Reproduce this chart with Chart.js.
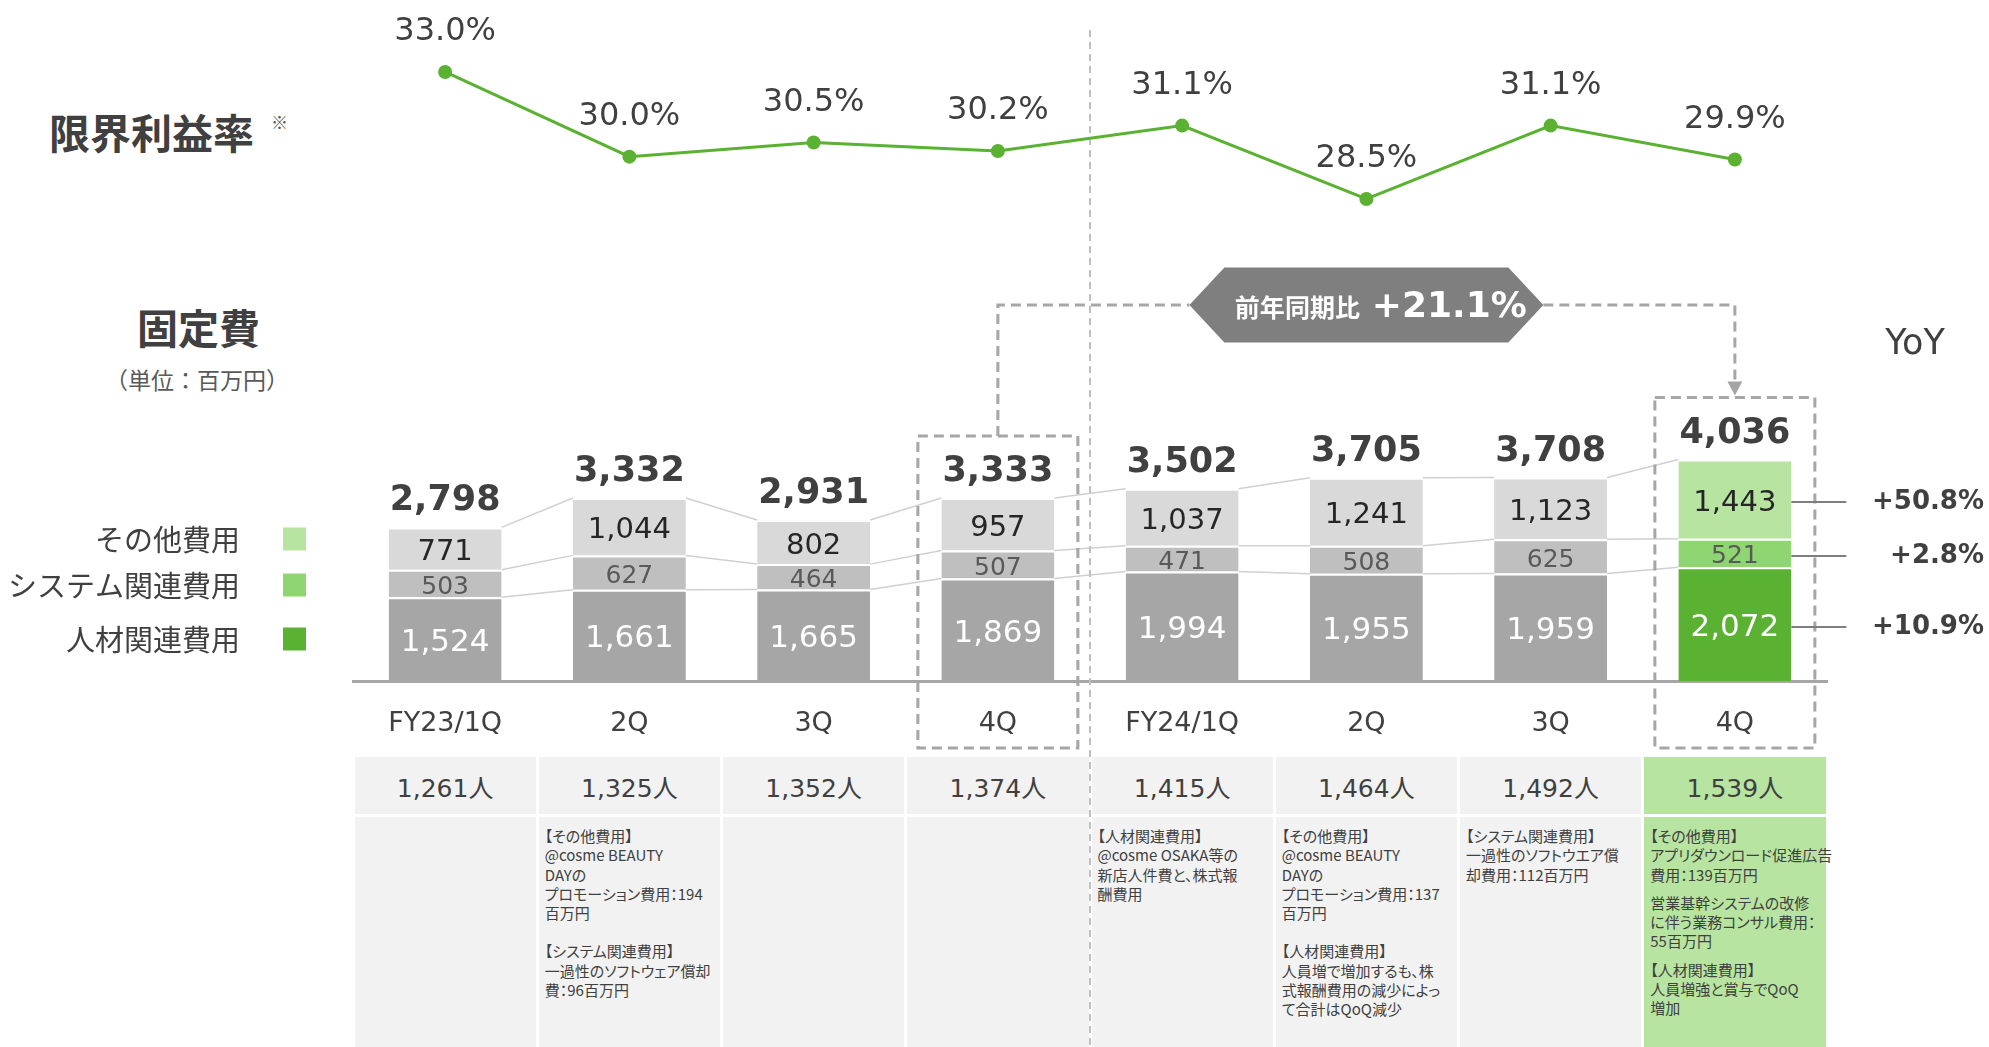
<!DOCTYPE html>
<html lang="ja">
<head>
<meta charset="utf-8">
<script src="https://cdn.jsdelivr.net/npm/chart.js@4.4.1/dist/chart.umd.min.js"></script>
<style>
  body { margin:0; width:1989px; height:1047px; background:#fff; position:relative; overflow:hidden;
         font-family:"Noto Sans CJK JP", sans-serif; color:#404040; }
  #chart { position:absolute; left:0; top:0; z-index:2; }
  .lbl { position:absolute; line-height:1; transform:translateY(-50%); white-space:nowrap; z-index:1; }
  .big { font-size:41px; font-weight:bold; color:#404040; }
  #table { position:absolute; left:353px; top:757px; width:1474px; height:290px; z-index:1; }
  .cell { position:absolute; background:#f2f2f2; box-sizing:border-box; }
  .cell.hl { background:#b7e4a1; }
  .head { font-family:"DejaVu Sans","Noto Sans CJK JP",sans-serif; font-size:25px; color:#404040;
          display:flex; align-items:center; justify-content:center; }
  .note { font-size:15px; line-height:19.3px; color:#404040; padding:9px 0 0 6px; white-space:pre;
          font-feature-settings:"palt"; }
</style>
</head>
<body>
<div class="lbl big" style="left:49px; top:131px;">限界利益率</div>
<div class="lbl" style="left:271px; top:121px; font-size:17px; color:#595959;">※</div>
<div class="lbl big" style="left:137px; top:326px;">固定費</div>
<div class="lbl" style="left:105px; top:379px; font-size:23px; color:#595959;">（単位：百万円）</div>
<div id="table"></div>
<canvas id="chart" width="1989" height="1047"></canvas>
<script>
const categories = ['FY23/1Q', '2Q', '3Q', '4Q', 'FY24/1Q', '2Q', '3Q', '4Q'];
const personnelCost = [1524, 1661, 1665, 1869, 1994, 1955, 1959, 2072];
const systemCost = [503, 627, 464, 507, 471, 508, 625, 521];
const otherCost = [771, 1044, 802, 957, 1037, 1241, 1123, 1443];
const totalLabels = ['2,798', '3,332', '2,931', '3,333', '3,502', '3,705', '3,708', '4,036'];
const marginRate = [33.0, 30.0, 30.5, 30.2, 31.1, 28.5, 31.1, 29.9];
const headcount = ['1,261人', '1,325人', '1,352人', '1,374人', '1,415人', '1,464人', '1,492人', '1,539人'];
const yoyLabels = ['+10.9%', '+2.8%', '+50.8%']; // 人材, システム, その他
const seriesNames = ['人材関連費用', 'システム関連費用', 'その他費用'];
const notes = [
  [],
  ['【その他費用】\n@cosme BEAUTY\nDAYの\nプロモーション費用：194\n百万円', '【システム関連費用】\n一過性のソフトウェア償却\n費：96百万円'],
  [],
  [],
  ['【人材関連費用】\n@cosme OSAKA等の\n新店人件費と、株式報\n酬費用'],
  ['【その他費用】\n@cosme BEAUTY\nDAYの\nプロモーション費用：137\n百万円', '【人材関連費用】\n人員増で増加するも、株\n式報酬費用の減少によっ\nて合計はQoQ減少'],
  ['【システム関連費用】\n一過性のソフトウエア償\n却費用：112百万円'],
  ['【その他費用】\nアプリダウンロード促進広告\n費用：139百万円', '営業基幹システムの改修\nに伴う業務コンサル費用：\n55百万円', '【人材関連費用】\n人員増強と賞与でQoQ\n増加']
];

const HL = 7; // highlighted quarter
const NUM = '"DejaVu Sans", "Noto Sans CJK JP", sans-serif';
const JP = '"Noto Sans CJK JP", sans-serif';
const grays = ['#a6a6a6', '#bfbfbf', '#d9d9d9'];
const greens = ['#5ab132', '#8fd672', '#b7e4a1'];

function colorsFor(k) {
  return categories.map((c, i) => i === HL ? greens[k] : grays[k]);
}

// table under the chart
const table = document.getElementById('table');
const colW = 1474 / categories.length;
categories.forEach((c, i) => {
  const h = document.createElement('div');
  h.className = 'cell head' + (i === HL ? ' hl' : '');
  h.style.cssText = `left:${i * colW + 1.5}px;top:0;width:${colW - 3}px;height:57px;`;
  h.textContent = headcount[i];
  table.appendChild(h);
  const n = document.createElement('div');
  n.className = 'cell note' + (i === HL ? ' hl' : '');
  n.style.cssText = `left:${i * colW + 1.5}px;top:60px;width:${colW - 3}px;height:230px;`;
  notes[i].forEach((p, j) => {
    const d = document.createElement('div');
    d.textContent = p;
    if (j > 0) d.style.marginTop = (i === HL ? 9 : 19) + 'px';
    n.appendChild(d);
  });
  table.appendChild(n);
});

function txt(ctx, s, x, y, font, color, align) {
  ctx.font = font;
  ctx.fillStyle = color;
  ctx.textAlign = align || 'center';
  ctx.textBaseline = 'middle';
  ctx.fillText(s, x, y);
}

const overlay = {
  id: 'overlay',
  beforeDatasetsDraw(chart) {
    const ctx = chart.ctx;
    const xs = chart.scales.x;
    ctx.save();
    // thin connectors between segment tops
    ctx.strokeStyle = '#d0d0d0';
    ctx.lineWidth = 1.5;
    [0, 1, 2].forEach(d => {
      const bars = chart.getDatasetMeta(d).data;
      for (let i = 0; i < bars.length - 1; i++) {
        const a = bars[i], b = bars[i + 1];
        ctx.beginPath();
        ctx.moveTo(a.x + a.width / 2, a.y);
        ctx.lineTo(b.x - b.width / 2, b.y);
        ctx.stroke();
      }
    });
    // FY23 / FY24 divider
    const divX = (xs.getPixelForValue(3) + xs.getPixelForValue(4)) / 2;
    ctx.setLineDash([7, 5]);
    ctx.strokeStyle = '#c0c0c0';
    ctx.lineWidth = 2;
    ctx.beginPath();
    ctx.moveTo(divX, 30);
    ctx.lineTo(divX, chart.height);
    ctx.stroke();
    ctx.restore();
  },
  afterDatasetsDraw(chart) {
    const ctx = chart.ctx;
    const xs = chart.scales.x;
    const area = chart.chartArea;
    ctx.save();

    // segment values
    const segFont = [`31px ${NUM}`, `25px ${NUM}`, `29px ${NUM}`];
    const segColor = ['#ffffff', '#595959', '#262626'];
    [0, 1, 2].forEach(d => {
      const ds = chart.data.datasets[d];
      chart.getDatasetMeta(d).data.forEach((bar, i) => {
        const v = ds.data[i].toLocaleString('en-US');
        txt(ctx, v, bar.x, (bar.y + bar.base) / 2 + 4, segFont[d], segColor[d]);
      });
    });
    // totals
    chart.getDatasetMeta(2).data.forEach((bar, i) => {
      txt(ctx, totalLabels[i], bar.x, bar.y - 26, `bold 35px ${NUM}`, '#404040');
    });
    // margin rate labels
    chart.getDatasetMeta(3).data.forEach((p, i) => {
      txt(ctx, marginRate[i].toFixed(1) + '%', p.x, p.y - 40, `32px ${NUM}`, '#404040');
    });

    // dashed boxes around the compared quarters
    const boxes = [3, HL].map(i => {
      const top = chart.getDatasetMeta(2).data[i];
      return { cx: top.x, l: top.x - 80, r: top.x + 80, t: top.y - 62, b: area.bottom + 67 };
    });
    ctx.strokeStyle = '#a6a6a6';
    ctx.lineWidth = 3;
    ctx.setLineDash([10, 6]);
    boxes.forEach(b => ctx.strokeRect(b.l, b.t, b.r - b.l, b.b - b.t));

    // connector + banner
    const bx = xs.getPixelForValue(5), by = 305;
    const bw = 177, bf = 142, bh = 37.5;
    const [b1, b2] = boxes;
    ctx.beginPath();
    ctx.moveTo(b1.cx, b1.t);
    ctx.lineTo(b1.cx, by);
    ctx.lineTo(bx - bw, by);
    ctx.stroke();
    ctx.beginPath();
    ctx.moveTo(bx + bw, by);
    ctx.lineTo(b2.cx, by);
    ctx.lineTo(b2.cx, b2.t - 15);
    ctx.stroke();
    ctx.setLineDash([]);
    ctx.fillStyle = '#a6a6a6';
    ctx.beginPath();
    ctx.moveTo(b2.cx - 7.5, b2.t - 16);
    ctx.lineTo(b2.cx + 7.5, b2.t - 16);
    ctx.lineTo(b2.cx, b2.t - 2);
    ctx.closePath();
    ctx.fill();

    ctx.fillStyle = '#7f7f7f';
    ctx.beginPath();
    ctx.moveTo(bx - bw, by);
    ctx.lineTo(bx - bf, by - bh);
    ctx.lineTo(bx + bf, by - bh);
    ctx.lineTo(bx + bw, by);
    ctx.lineTo(bx + bf, by + bh);
    ctx.lineTo(bx - bf, by + bh);
    ctx.closePath();
    ctx.fill();
    txt(ctx, '前年同期比', bx - 69, by + 2, `bold 25px ${JP}`, '#ffffff');
    txt(ctx, '+21.1%', bx + 83, by + 3, `bold 36px ${NUM}`, '#ffffff');

    // YoY column
    txt(ctx, 'YoY', 1915, 345, `35px ${NUM}`, '#404040');
    ctx.strokeStyle = '#7f7f7f';
    ctx.lineWidth = 2;
    [0, 1, 2].forEach(d => {
      const bar = chart.getDatasetMeta(d).data[HL];
      const y = (bar.y + bar.base) / 2 + 3;
      const x0 = bar.x + bar.width / 2;
      ctx.beginPath();
      ctx.moveTo(x0, y);
      ctx.lineTo(x0 + 55, y);
      ctx.stroke();
      txt(ctx, yoyLabels[d], chart.width - 5, y, `bold 26px ${NUM}`, '#404040', 'right');
    });

    // legend
    const legendY = [639, 585, 539];
    [0, 1, 2].forEach(d => {
      ctx.fillStyle = greens[d];
      ctx.fillRect(283, legendY[d] - 11.5, 23, 23);
      txt(ctx, seriesNames[d], 240, legendY[d] + 1, `29px ${JP}`, '#404040', 'right');
    });
    ctx.restore();
  }
};

new Chart(document.getElementById('chart'), {
  type: 'bar',
  data: {
    labels: categories,
    datasets: [
      { label: seriesNames[0], data: personnelCost, backgroundColor: colorsFor(0), stack: 's' },
      { label: seriesNames[1], data: systemCost, backgroundColor: colorsFor(1), stack: 's' },
      { label: seriesNames[2], data: otherCost, backgroundColor: colorsFor(2), stack: 's' },
      { type: 'line', label: '限界利益率', data: marginRate, yAxisID: 'y2',
        borderColor: '#5ab132', borderWidth: 3, pointRadius: 7, pointBorderWidth: 0,
        pointBackgroundColor: '#5ab132', tension: 0 }
    ].map(ds => ds.type ? ds : Object.assign(ds, {
      borderColor: '#ffffff', borderWidth: { top: 2, left: 0, right: 0, bottom: 0 },
      borderSkipped: 'start', barPercentage: 0.613, categoryPercentage: 1
    }))
  },
  options: {
    responsive: false,
    devicePixelRatio: 1,
    animation: false,
    layout: { autoPadding: false, padding: { left: 353, right: 162, top: 0, bottom: 286 } },
    plugins: { legend: { display: false }, tooltip: { enabled: false } },
    scales: {
      x: {
        stacked: true,
        grid: { display: false, drawTicks: false },
        border: { display: true, color: '#a6a6a6', width: 3 },
        ticks: { color: '#404040', font: { family: NUM, size: 27 }, padding: 27 },
        afterFit: s => { s.height = 80; }
      },
      y: { stacked: true, display: false, min: 0, max: 12404 },
      y2: { display: false, min: 11.42, max: 35.55 }
    }
  },
  plugins: [overlay]
});
</script>
</body>
</html>
